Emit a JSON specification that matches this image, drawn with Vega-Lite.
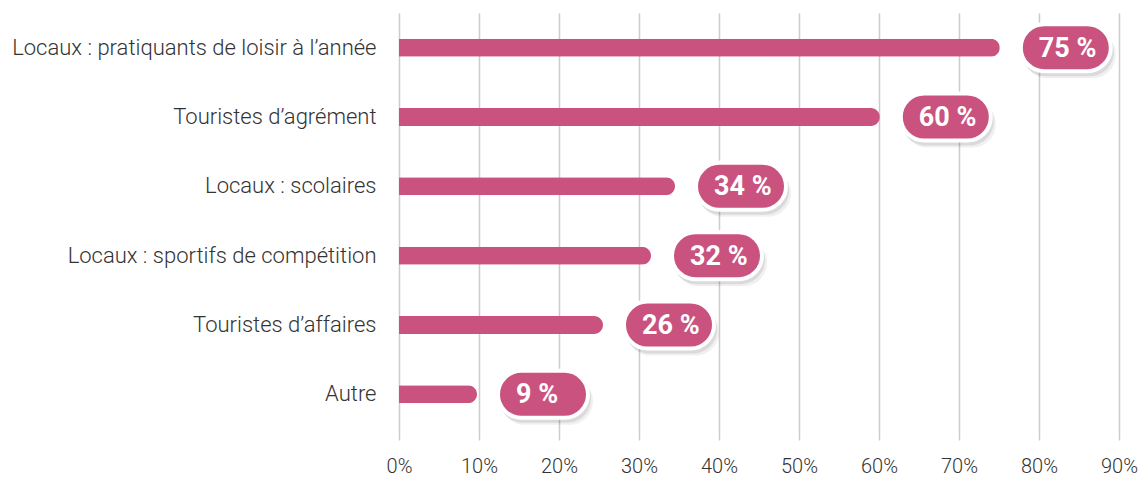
{
  "$schema": "https://vega.github.io/schema/vega-lite/v6.json",
  "autosize": {"type": "none"},
  "padding": {"left": 399, "top": 13, "right": 24, "bottom": 48},
  "width": 720,
  "height": 416,
  "background": "white",
  "config": {"view": {"stroke": null}},
  "data": {
    "values": [
      {"cat": "Locaux : pratiquants de loisir à l’année", "value": 0.751, "label": "75 %"},
      {"cat": "Touristes d’agrément", "value": 0.601, "label": "60 %"},
      {"cat": "Locaux : scolaires", "value": 0.345, "label": "34 %"},
      {"cat": "Locaux : sportifs de compétition", "value": 0.315, "label": "32 %"},
      {"cat": "Touristes d’affaires", "value": 0.255, "label": "26 %"},
      {"cat": "Autre", "value": 0.0975, "label": "9 %"}
    ]
  },
  "encoding": {
    "y": {
      "field": "cat", "type": "nominal", "sort": null,
      "scale": {"paddingInner": 0, "paddingOuter": 0},
      "axis": {"title": null, "domain": false, "ticks": false, "labelPadding": 23,
               "labelFont": "Roboto", "labelFontWeight": 300, "labelFontSize": 22, "labelColor": "#333333", "labelLimit": 420}
    }
  },
  "layer": [
    {
      "mark": {"type": "bar", "height": 18, "color": "#c9527f", "cornerRadiusEnd": 9},
      "encoding": {
        "x": {
          "field": "value", "type": "quantitative",
          "scale": {"domain": [0, 0.9], "nice": false},
          "axis": {"title": null, "format": "~%", "values": [0,0.1,0.2,0.3,0.4,0.5,0.6,0.7,0.8,0.9],
                   "domain": false, "grid": true, "gridColor": "#cccccc", "gridWidth": 1.5,
                   "tickColor": "#cccccc", "tickWidth": 1.5, "tickSize": 11, "labelPadding": 16, "labelFlush": false,
                   "labelFont": "Roboto", "labelFontWeight": 300, "labelFontSize": 20, "labelColor": "#333333"}
        }
      }
    },
    {
      "mark": {"type": "bar", "height": 47, "color": "#000000", "opacity": 0.06, "cornerRadius": 25, "xOffset": 24, "x2Offset": 116, "yOffset": 7},
      "encoding": {"x": {"field": "value", "type": "quantitative"}, "x2": {"field": "value"}}
    },
    {
      "mark": {"type": "bar", "height": 49, "color": "#000000", "opacity": 0.09, "cornerRadius": 24, "xOffset": 22, "x2Offset": 114, "yOffset": 4},
      "encoding": {"x": {"field": "value", "type": "quantitative"}, "x2": {"field": "value"}}
    },
    {
      "mark": {"type": "bar", "height": 47, "color": "#c9527f", "stroke": "white", "strokeWidth": 4, "cornerRadius": 23.5, "xOffset": 21, "x2Offset": 111},
      "encoding": {"x": {"field": "value", "type": "quantitative"}, "x2": {"field": "value"}}
    },
    {
      "mark": {"type": "text", "align": "left", "baseline": "middle", "dx": 39, "dy": 1, "font": "Roboto", "fontWeight": "bold", "fontSize": 27, "color": "white"},
      "encoding": {"x": {"field": "value", "type": "quantitative"}, "text": {"field": "label"}}
    }
  ]
}
